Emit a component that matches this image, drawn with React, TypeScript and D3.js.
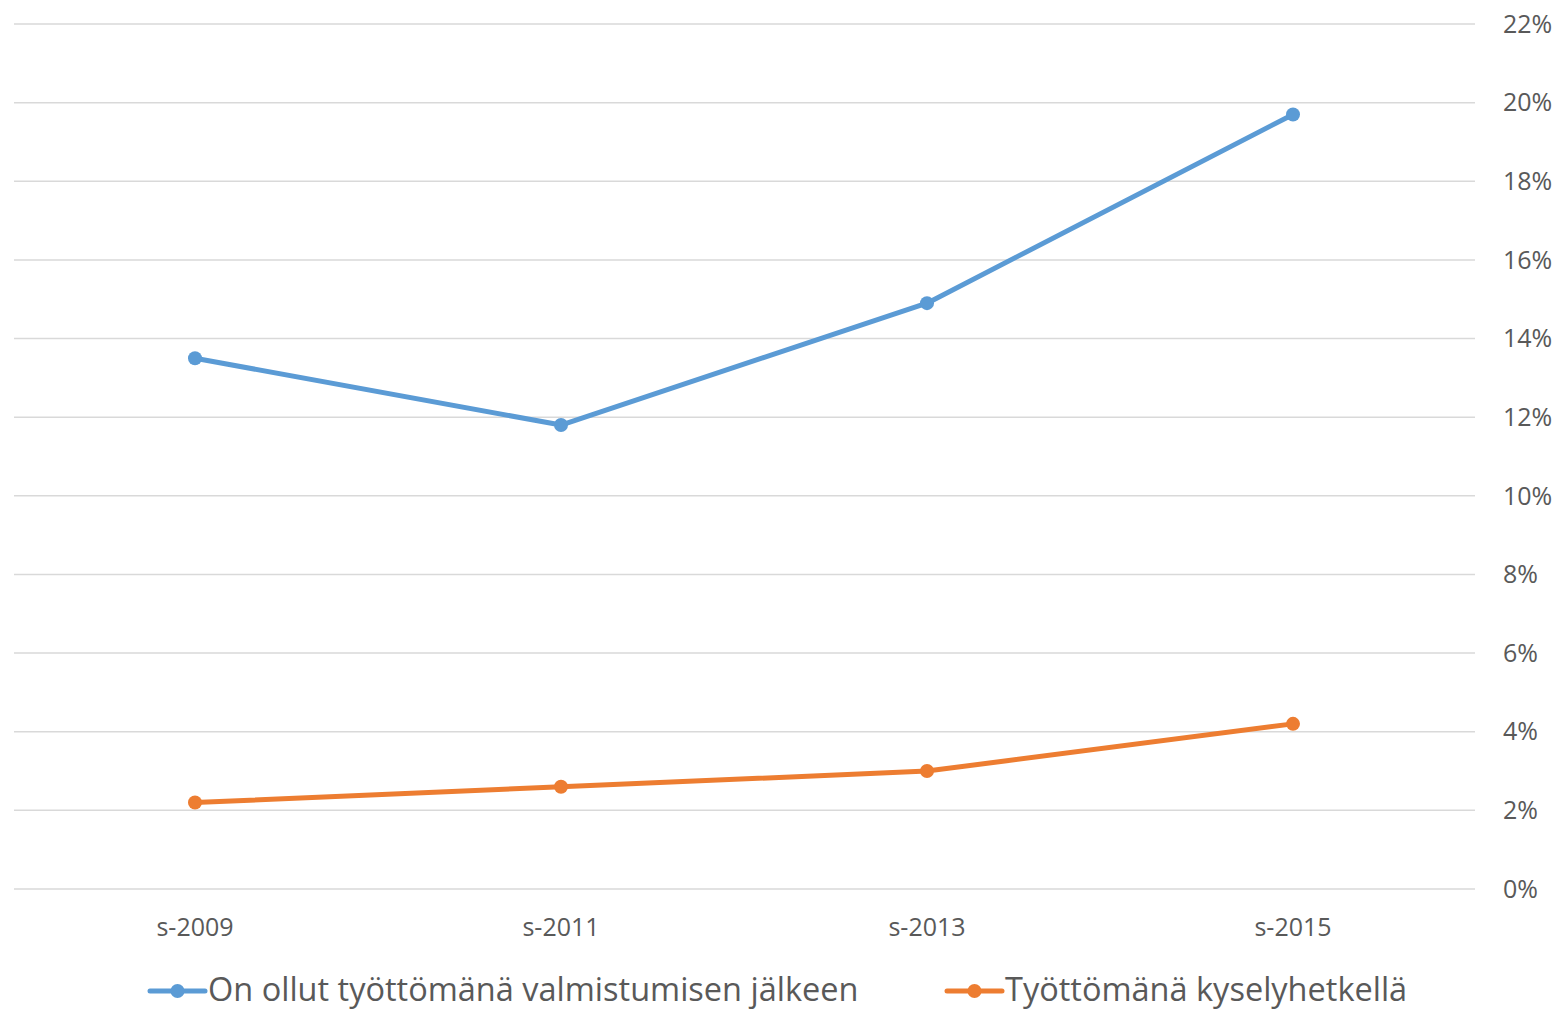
import { useEffect, useRef } from "react";
import * as d3 from "d3";

const categories = ["s-2009", "s-2011", "s-2013", "s-2015"];
const seriesNames = ["On ollut työttömänä valmistumisen jälkeen", "Työttömänä kyselyhetkellä"];
const afterGraduation = [13.5, 11.8, 14.9, 19.7];
const atSurvey = [2.2, 2.6, 3.0, 4.2];
const yTicks = [0, 2, 4, 6, 8, 10, 12, 14, 16, 18, 20, 22];
const colors = ["#5B9BD5", "#ED7D31"];

const W = 1558;
const H = 1011;
const FONT = "'Open Sans', sans-serif";

export default function App() {
  const svgRef = useRef<SVGSVGElement>(null);

  useEffect(() => {
    const svg = d3.select(svgRef.current);
    svg.selectAll("*").remove();

    const x = d3.scaleBand().domain(categories).range([12, 1476]);
    const y = d3.scaleLinear().domain([0, 22]).range([889, 24]);

    // gridlines
    svg.append("g")
      .selectAll("line")
      .data(yTicks)
      .join("line")
      .attr("x1", 14)
      .attr("x2", 1475)
      .attr("y1", d => y(d))
      .attr("y2", d => y(d))
      .attr("stroke", "#D9D9D9")
      .attr("stroke-width", 1.5);

    // y labels (right side)
    svg.append("g")
      .selectAll("text")
      .data(yTicks)
      .join("text")
      .attr("x", 1503)
      .attr("y", d => y(d))
      .attr("dy", "0.35em")
      .style("font-family", FONT)
      .style("font-size", "25px")
      .attr("fill", "#595959")
      .text(d => `${d}%`);

    // x labels
    svg.append("g")
      .selectAll("text")
      .data(categories)
      .join("text")
      .attr("x", d => x(d)! + x.bandwidth() / 2)
      .attr("y", 927)
      .attr("dy", "0.35em")
      .attr("text-anchor", "middle")
      .style("font-family", FONT)
      .style("font-size", "25px")
      .attr("fill", "#595959")
      .text(d => d);

    const line = d3.line<number>()
      .x((d, i) => x(categories[i])! + x.bandwidth() / 2)
      .y(d => y(d));

    const series = [afterGraduation, atSurvey];
    series.forEach((vals, si) => {
      const g = svg.append("g");
      g.append("path")
        .datum(vals)
        .attr("d", line)
        .attr("fill", "none")
        .attr("stroke", colors[si])
        .attr("stroke-width", 5)
        .attr("stroke-linejoin", "round")
        .attr("stroke-linecap", "round");
      g.selectAll("circle")
        .data(vals)
        .join("circle")
        .attr("cx", (d, i) => x(categories[i])! + x.bandwidth() / 2)
        .attr("cy", d => y(d))
        .attr("r", 7)
        .attr("fill", colors[si]);
    });

    // legend
    const legendX = [150, 947];
    seriesNames.forEach((name, si) => {
      const lg = svg.append("g").attr("transform", `translate(${legendX[si]}, 991)`);
      lg.append("line")
        .attr("x1", 0).attr("x2", 55)
        .attr("y1", 0).attr("y2", 0)
        .attr("stroke", colors[si])
        .attr("stroke-width", 5)
        .attr("stroke-linecap", "round");
      lg.append("circle").attr("cx", 27.5).attr("cy", 0).attr("r", 7).attr("fill", colors[si]);
      lg.append("text")
        .attr("x", 58)
        .attr("y", 0)
        .attr("dy", "0.3em")
        .style("font-family", FONT)
        .style("font-size", "32.5px")
        .attr("fill", "#595959")
        .text(name);
    });
  }, []);

  return (
    <svg ref={svgRef} width={W} height={H} style={{ position: "absolute", left: 0, top: 0, background: "#fff" }} />
  );
}
